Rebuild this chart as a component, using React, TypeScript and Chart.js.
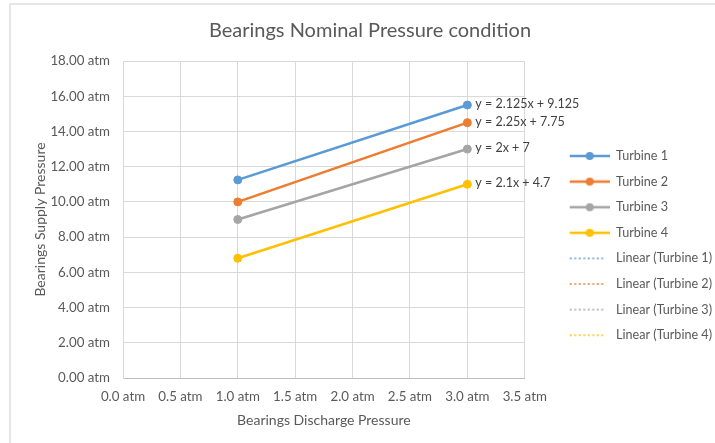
import React, { useEffect, useRef } from 'react';
import { Chart, registerables } from 'chart.js';

Chart.register(...registerables);

// ---- data ----
const seriesNames = ['Turbine 1', 'Turbine 2', 'Turbine 3', 'Turbine 4'];
const xValues = [1, 3];
const turbine1 = [11.25, 15.5];
const turbine2 = [10, 14.5];
const turbine3 = [9, 13];
const turbine4 = [6.8, 11];
const seriesValues = [turbine1, turbine2, turbine3, turbine4];
const trendSlopes = [2.125, 2.25, 2, 2.1];
const trendIntercepts = [9.125, 7.75, 7, 4.7];
const colors = ['#5B9BD5', '#ED7D31', '#A5A5A5', '#FFC000'];

const xMin = 0;
const xMax = 3.5;
const xStep = 0.5;
const yMin = 0;
const yMax = 18;
const yStep = 2;

const chartTitle = 'Bearings Nominal Pressure condition';
const xTitle = 'Bearings Discharge Pressure';
const yTitle = 'Bearings Supply Pressure';

const FONT = 'Lato';
const TEXT = '#595959';

const equationText = (i: number) => `y = ${trendSlopes[i]}x + ${trendIntercepts[i]}`;

const makeLegendImage = (color: string, dotted: boolean) => {
  const c = document.createElement('canvas');
  c.width = 72;
  c.height = 10;
  const ctx = c.getContext('2d') as CanvasRenderingContext2D;
  ctx.strokeStyle = color;
  if (dotted) {
    ctx.lineWidth = 1.5;
    ctx.setLineDash([2, 2.5]);
    ctx.beginPath();
    ctx.moveTo(32, 5);
    ctx.lineTo(68, 5);
    ctx.stroke();
  } else {
    ctx.lineWidth = 2.5;
    ctx.beginPath();
    ctx.moveTo(32, 5);
    ctx.lineTo(72, 5);
    ctx.stroke();
    ctx.fillStyle = color;
    ctx.beginPath();
    ctx.arc(52, 5, 4, 0, Math.PI * 2);
    ctx.fill();
  }
  return c;
};

const equationPlugin = {
  id: 'equationLabels',
  afterDatasetsDraw(chart: any) {
    const ctx = chart.ctx as CanvasRenderingContext2D;
    ctx.save();
    ctx.font = `12.5px ${FONT}`;
    ctx.fillStyle = '#404040';
    ctx.textAlign = 'left';
    ctx.textBaseline = 'middle';
    seriesValues.forEach((_, i) => {
      const meta = chart.getDatasetMeta(i);
      const pt = meta.data[meta.data.length - 1];
      if (pt) ctx.fillText(equationText(i), pt.x + 8, pt.y - 1);
    });
    ctx.restore();
  },
};

export default function App() {
  const canvasRef = useRef<HTMLCanvasElement | null>(null);

  useEffect(() => {
    if (!canvasRef.current) return;
    Chart.defaults.font.family = FONT;
    Chart.defaults.color = TEXT;

    const mainSets = seriesValues.map((vals, i) => ({
      label: seriesNames[i],
      data: xValues.map((x, j) => ({ x, y: vals[j] })),
      showLine: true,
      borderColor: colors[i],
      backgroundColor: colors[i],
      pointBackgroundColor: colors[i],
      pointBorderColor: colors[i],
      borderWidth: 2.5,
      pointRadius: 4,
      pointHoverRadius: 4,
      pointBorderWidth: 1,
      order: 1,
    }));
    const trendSets = seriesValues.map((_, i) => ({
      label: `Linear (${seriesNames[i]})`,
      data: xValues.map((x) => ({ x, y: trendSlopes[i] * x + trendIntercepts[i] })),
      showLine: true,
      borderColor: colors[i],
      backgroundColor: colors[i],
      borderWidth: 1.5,
      borderDash: [2, 2.5],
      pointRadius: 0,
      pointHoverRadius: 0,
      order: 2,
    }));

    const legendImages = [
      ...colors.map((c) => makeLegendImage(c, false)),
      ...colors.map((c) => makeLegendImage(c, true)),
    ];

    const chart = new Chart(canvasRef.current, {
      type: 'scatter',
      data: { datasets: [...mainSets, ...trendSets] as any },
      plugins: [equationPlugin],
      options: {
        animation: false,
        responsive: false,
        layout: { padding: { left: 18, right: -7, top: 0, bottom: 0 } },
        plugins: {
          tooltip: { enabled: false },
          title: {
            display: true,
            text: chartTitle,
            color: TEXT,
            font: { family: FONT, size: 20, weight: 'normal' },
            padding: { top: 19, bottom: 18 },
          },
          legend: {
            display: true,
            position: 'right',
            maxWidth: 300,
            title: {
              display: true,
              text: ' ',
              font: { family: FONT, size: 10 },
              padding: { top: 0, bottom: 36.2 },
            },
            labels: {
              usePointStyle: true,
              pointStyleWidth: 72,
              padding: 13,
              color: TEXT,
              font: { family: FONT, size: 12.6 },
              generateLabels: () =>
                [...mainSets, ...trendSets].map((ds, i) => ({
                  text: ds.label,
                  pointStyle: legendImages[i] as any,
                  fillStyle: 'transparent',
                  strokeStyle: 'transparent',
                  lineWidth: 0,
                  hidden: false,
                  datasetIndex: i,
                  fontColor: TEXT,
                })),
            },
          },
        },
        scales: {
          x: {
            type: 'linear',
            min: xMin,
            max: xMax,
            afterFit: (scale: any) => {
              scale.height = 65;
            },
            ticks: {
              stepSize: xStep,
              padding: 11,
              color: TEXT,
              font: { family: FONT, size: 13.3 },
              callback: (v: any) => `${Number(v).toFixed(1)} atm`,
            },
            grid: { color: '#d9d9d9', lineWidth: 1, drawTicks: false },
            border: { color: '#bfbfbf', width: 1 },
            title: {
              display: true,
              text: xTitle,
              color: TEXT,
              font: { family: FONT, size: 14 },
              padding: { top: 4, bottom: 14.6 },
            },
          },
          y: {
            type: 'linear',
            min: yMin,
            max: yMax,
            afterFit: (scale: any) => {
              scale.width = 105;
            },
            ticks: {
              stepSize: yStep,
              padding: 13,
              color: TEXT,
              font: { family: FONT, size: 13.3 },
              callback: (v: any) => `${Number(v).toFixed(2)} atm`,
            },
            grid: { color: '#d9d9d9', lineWidth: 1, drawTicks: false },
            border: { color: '#d9d9d9', width: 1 },
            title: {
              display: true,
              text: yTitle,
              color: TEXT,
              font: { family: FONT, size: 14 },
              padding: { top: 13.6, bottom: 0 },
            },
          },
        },
      } as any,
    });
    return () => chart.destroy();
  }, []);

  return (
    <div style={{ position: 'fixed', left: 0, top: 0, width: 715, height: 443, overflow: 'hidden', background: '#ffffff' }}>
      <div
        style={{
          position: 'absolute',
          left: 9,
          top: 3,
          width: 760,
          height: 480,
          border: '2px solid #e6e6e6',
          boxSizing: 'border-box',
        }}
      />
      <canvas ref={canvasRef} width={715} height={443} style={{ position: 'absolute', left: 0, top: 0 }} />
    </div>
  );
}
